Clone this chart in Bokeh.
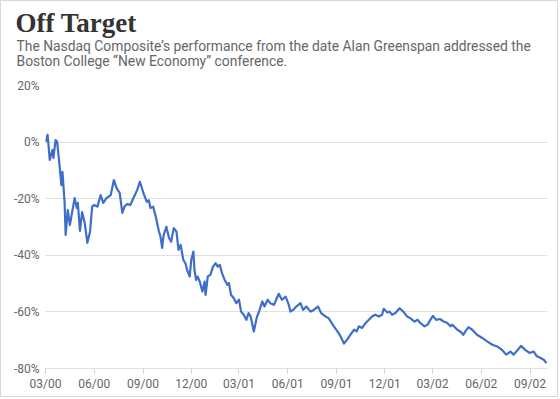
import pandas as pd
from bokeh.plotting import figure
from bokeh.models import Range1d, FixedTicker, PrintfTickFormatter, Title
from bokeh.embed import file_html
from bokeh.resources import INLINE

# ---- data ----
start_date = "2000-03-06"   # Greenspan's Boston College speech
day_offsets = [0,4,8,13,15,19,22,27,30,32,
               36,38,42,46,50,55,59,61,65,69,
               74,79,84,88,92,98,104,109,115,123,
               129,134,140,145,149,154,160,167,173,178,
               185,191,195,198,203,208,214,217,220,223,
               228,233,237,242,247,251,255,260,264,267,
               272,275,279,281,284,287,291,296,300,302,
               306,311,316,321,325,329,333,338,343,346,
               350,355,360,365,369,374,379,383,387,393,
               399,402,409,413,419,424,431,440,446,453,
               459,462,467,473,481,486,492,500,506,514,
               520,528,534,544,553,557,563,569,575,582,
               587,591,597,604,610,616,622,629,635,638,
               645,649,654,660,668,675,682,688,696,702,
               707,715,721,726,731,737,744,751,758,764,
               767,777,783,788,792,798,805,814,824,833,
               843,852,861,869,877,883,891,897,905,913,
               921,927,934,940,945]
performance_pct = [0.0,2.6,-6.3,-2.8,-5.6,0.7,0.1,-9.2,-15.2,-10.5,
                   -21.1,-32.8,-24.0,-29.3,-25.0,-19.8,-23.3,-21.5,-31.4,-24.7,
                   -28.6,-35.6,-31.7,-22.8,-22.2,-22.8,-18.7,-21.5,-19.8,-18.7,
                   -13.4,-16.2,-18.0,-25.0,-22.8,-21.9,-22.2,-19.3,-16.9,-14.0,
                   -18.1,-21.1,-20.5,-23.3,-22.8,-26.3,-31.6,-33.4,-37.4,-32.8,
                   -29.9,-33.9,-35.2,-30.4,-31.6,-38.1,-36.3,-41.6,-42.8,-45.1,
                   -47.5,-41.6,-38.7,-45.1,-48.7,-47.5,-49.3,-52.8,-49.3,-54.0,
                   -47.5,-46.9,-44.0,-42.8,-44.0,-43.4,-46.3,-48.7,-50.4,-49.8,
                   -54.0,-55.1,-56.9,-55.7,-59.9,-61.0,-62.8,-60.4,-61.6,-66.9,
                   -61.6,-60.4,-56.3,-58.1,-55.7,-56.9,-57.5,-53.6,-55.7,-54.6,
                   -57.5,-59.9,-59.3,-58.1,-56.9,-59.3,-58.1,-59.9,-59.3,-58.1,
                   -60.4,-61.6,-62.2,-65.1,-67.5,-68.8,-71.2,-69.8,-68.1,-66.3,
                   -66.9,-65.1,-65.7,-63.9,-62.8,-61.6,-61.0,-61.6,-61.0,-58.9,
                   -60.2,-59.9,-61.0,-60.4,-58.7,-59.9,-61.6,-62.2,-63.4,-62.8,
                   -63.9,-65.1,-64.5,-62.8,-61.4,-62.8,-62.5,-63.4,-63.9,-65.1,
                   -64.5,-66.3,-67.0,-68.1,-66.9,-65.4,-66.3,-68.1,-69.2,-70.4,
                   -71.6,-72.2,-73.4,-75.1,-74.0,-75.1,-73.4,-72.0,-73.4,-74.5,
                   -74.0,-75.7,-76.3,-76.9,-78.1]
x_tick_labels = ["03/00", "06/00", "09/00", "12/00", "03/01", "06/01",
                 "09/01", "12/01", "03/02", "06/02", "09/02"]
y_ticks = [20, 0, -20, -40, -60, -80]

title_text = "Off Target"
subtitle_lines = ["The Nasdaq Composite\u2019s performance from the date Alan Greenspan addressed the",
                  "Boston College \u201cNew Economy\u201d conference."]

# ---- derived ----
start = pd.Timestamp(start_date)
dates = start + pd.to_timedelta(day_offsets, unit="D")
tick_dates = pd.date_range(start, periods=len(x_tick_labels), freq=pd.DateOffset(months=3))
tick_ms = [int(t.value // 10**6) for t in tick_dates]

GRID = "#e0e0e0"
TXT = "#666666"

p = figure(width=558, height=397, output_backend="svg", toolbar_location=None,
           x_axis_type="datetime",
           x_range=Range1d(start, start + pd.Timedelta(days=947)),
           y_range=Range1d(-80, 20),
           min_border_left=44, min_border_right=12, min_border_top=0, min_border_bottom=30)
p.styles = {"border": "1px solid #d8d8d8"}
p.outline_line_color = None
p.background_fill_color = "white"
p.border_fill_color = "white"

p.line(dates, performance_pct, line_color="#3d6fc9", line_width=2.2, line_join="round")

# x axis
xa = p.xaxis[0]
xa.ticker = FixedTicker(ticks=tick_ms)
xa.major_label_overrides = {ms: lab for ms, lab in zip(tick_ms, x_tick_labels)}
xa.axis_line_color = GRID
xa.major_tick_line_color = "#d0d0d0"
xa.major_tick_out = 5
xa.major_tick_in = 0
xa.minor_tick_line_color = None
xa.major_label_standoff = 3
xa.major_label_text_font = "Roboto"
xa.major_label_text_font_size = "12px"
xa.major_label_text_color = TXT

# y axis
ya = p.yaxis[0]
ya.ticker = FixedTicker(ticks=y_ticks)
ya.formatter = PrintfTickFormatter(format="%d%%")
ya.axis_line_color = None
ya.major_tick_line_color = None
ya.minor_tick_line_color = None
ya.major_tick_out = 0
ya.major_label_standoff = 6
ya.major_label_text_font = "Roboto"
ya.major_label_text_font_size = "12px"
ya.major_label_text_color = TXT

p.xgrid.grid_line_color = None
p.ygrid.ticker = FixedTicker(ticks=y_ticks)
p.ygrid.grid_line_color = GRID
p.ygrid.grid_line_width = 1

# titles: stacked in the "above" panel, innermost first
p.add_layout(Title(text=" ", text_font_size="1px", standoff=5.6), "above")   # spacing
p.add_layout(Title(text=subtitle_lines[1], text_font="Roboto", text_font_size="13.85px",
                   text_font_style="normal", text_color=TXT, align="left", offset=-29,
                   vertical_align="top", standoff=11.4, text_line_height=1.0), "above")
p.add_layout(Title(text=subtitle_lines[0], text_font="Roboto", text_font_size="13.85px",
                   text_font_style="normal", text_color=TXT, align="left", offset=-29,
                   vertical_align="top", standoff=-16, text_line_height=1.0), "above")
p.add_layout(Title(text=title_text, text_font="Liberation Serif", text_font_size="27px",
                   text_font_style="bold", text_color="#333333", align="left", offset=-30,
                   vertical_align="top", standoff=12, text_line_height=1.0), "above")

open("out.html", "w").write(file_html(p, INLINE))
